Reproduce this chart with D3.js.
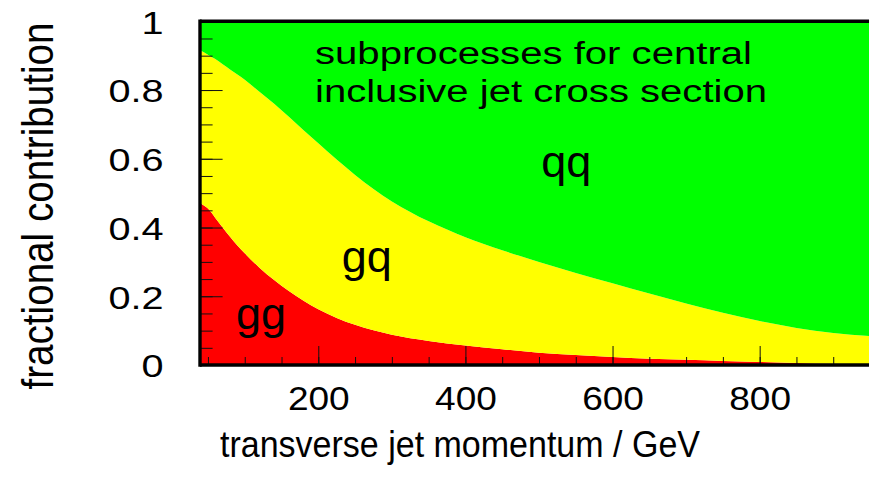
<!DOCTYPE html>
<html>
<head>
<meta charset="utf-8">
<script src="https://cdn.jsdelivr.net/npm/d3@7"></script>
<style>
  html, body { margin: 0; padding: 0; background: #ffffff; }
  svg { display: block; }
  text { font-family: "Liberation Sans", Arial, Helvetica, sans-serif; fill: #000; }
</style>
</head>
<body>
<svg id="chart" width="869" height="482"></svg>
<script>
// ---- data ----
const pt = [40, 50, 60, 70, 80, 90, 100, 120, 140, 160, 180, 200, 225, 250, 275, 300, 350, 400, 450, 500, 550, 600, 650, 700, 750, 800, 850, 900, 950];
const ggFraction = [0.470, 0.455, 0.428, 0.400, 0.373, 0.348, 0.325, 0.283, 0.247, 0.215, 0.187, 0.162, 0.137, 0.117, 0.101, 0.088, 0.070, 0.057, 0.046, 0.036, 0.029, 0.023, 0.018, 0.015, 0.012, 0.009, 0.006, 0.004, 0.003];
const gqFraction = [0.445, 0.448, 0.462, 0.475, 0.487, 0.497, 0.505, 0.512, 0.513, 0.507, 0.496, 0.483, 0.461, 0.436, 0.411, 0.388, 0.348, 0.315, 0.288, 0.264, 0.239, 0.215, 0.190, 0.164, 0.140, 0.119, 0.102, 0.089, 0.081];
const subprocesses = ["gg", "gq", "qq"];
const xMajorTicks = [200, 400, 600, 800];
const xMinorTicks = d3.range(50, 951, 50);
const yMajorTicks = [0, 0.2, 0.4, 0.6, 0.8, 1];
const yMinorTicks = d3.range(0, 1.0001, 0.05);
const yTickLabels = ["0", "0.2", "0.4", "0.6", "0.8", "1"];
const xTitle = "transverse jet momentum / GeV";
const yTitle = "fractional contribution";
const noteLines = ["subprocesses for central", "inclusive jet cross section"];

const colors = { gg: "#ff0000", gq: "#ffff00", qq: "#00ff00" };

// ---- build table ----
const table = pt.map((p, i) => ({
  pt: p,
  gg: ggFraction[i],
  gq: gqFraction[i],
  qq: 1 - ggFraction[i] - gqFraction[i]
}));

const svg = d3.select("#chart");
const x = d3.scaleLinear().domain([40, 950]).range([200.6, 870]);
const y = d3.scaleLinear().domain([0, 1]).range([365, 21.3]);

const series = d3.stack().keys(subprocesses)(table);

const area = d3.area()
  .x(d => x(d.data.pt))
  .y0(d => y(d[0]))
  .y1(d => y(d[1]))
  .curve(d3.curveMonotoneX);

svg.append("defs").append("clipPath").attr("id", "plotclip")
  .append("rect").attr("x", 200).attr("y", 21).attr("width", 670).attr("height", 345);

svg.append("g").attr("clip-path", "url(#plotclip)")
  .selectAll("path")
  .data(series)
  .join("path")
  .attr("d", area)
  .attr("fill", d => colors[d.key]);

// ---- axes ----
const xMinor = svg.append("g").attr("transform", `translate(0,${y(0)})`)
  .call(d3.axisBottom(x).tickValues(xMinorTicks).tickSize(-8).tickFormat(""));
const xMajor = svg.append("g").attr("transform", `translate(0,${y(0)})`)
  .call(d3.axisBottom(x).tickValues(xMajorTicks).tickSize(-19).tickPadding(22).tickFormat(d3.format("d")));
const yMinor = svg.append("g").attr("transform", `translate(${x(40)},0)`)
  .call(d3.axisLeft(y).tickValues(yMinorTicks).tickSize(-12).tickFormat(""));
const yMajor = svg.append("g").attr("transform", `translate(${x(40)},0)`)
  .call(d3.axisLeft(y).tickValues(yMajorTicks).tickSize(-22).tickFormat((d, i) => yTickLabels[i]));

[xMinor, xMajor, yMinor, yMajor].forEach(g => {
  g.attr("font-family", null);
  g.select(".domain").remove();
  g.selectAll(".tick line").attr("stroke", "#111").attr("stroke-width", 1);
});
xMajor.selectAll(".tick text")
  .attr("font-size", 32.5)
  .attr("fill", "#000")
  .attr("transform", "scale(1.14,1)");
yMajor.selectAll(".tick text")
  .attr("font-size", 32)
  .attr("fill", "#000")
  .attr("x", 0)
  .attr("transform", "translate(-37,1.5) scale(1.24,1)");

// ---- frame ----
const frame = svg.append("g").attr("stroke", "#000").attr("stroke-width", 3.4).attr("fill", "none");
frame.append("line").attr("x1", 200).attr("x2", 200).attr("y1", y(1) - 1.7).attr("y2", y(0) + 1.7);
frame.append("line").attr("x1", 200).attr("x2", 869).attr("y1", y(1)).attr("y2", y(1));
frame.append("line").attr("x1", 200).attr("x2", 869).attr("y1", y(0)).attr("y2", y(0));

// ---- titles ----
svg.append("text")
  .attr("x", 460).attr("y", 457)
  .attr("text-anchor", "middle")
  .attr("font-size", 37)
  .attr("textLength", 480).attr("lengthAdjust", "spacingAndGlyphs")
  .text(xTitle);

svg.append("text")
  .attr("transform", "translate(53,206) rotate(-90) scale(1,1.16)")
  .attr("text-anchor", "middle")
  .attr("font-size", 39)
  .attr("textLength", 367).attr("lengthAdjust", "spacingAndGlyphs")
  .text(yTitle);

// ---- annotations ----
svg.append("text").attr("x", 315).attr("y", 63.5).attr("font-size", 31)
  .attr("textLength", 437).attr("lengthAdjust", "spacingAndGlyphs").text(noteLines[0]);
svg.append("text").attr("x", 315).attr("y", 101.5).attr("font-size", 31)
  .attr("textLength", 452).attr("lengthAdjust", "spacingAndGlyphs").text(noteLines[1]);

const labelPos = [
  { key: "gg", pt: 122, v: 0.105 },
  { key: "gq", pt: 266, v: 0.27 },
  { key: "qq", pt: 537, v: 0.547 }
];
svg.append("g").selectAll("text")
  .data(labelPos)
  .join("text")
  .attr("x", d => x(d.pt))
  .attr("y", d => y(d.v))
  .attr("text-anchor", "middle")
  .attr("font-size", 45)
  .text(d => d.key);
</script>
</body>
</html>
